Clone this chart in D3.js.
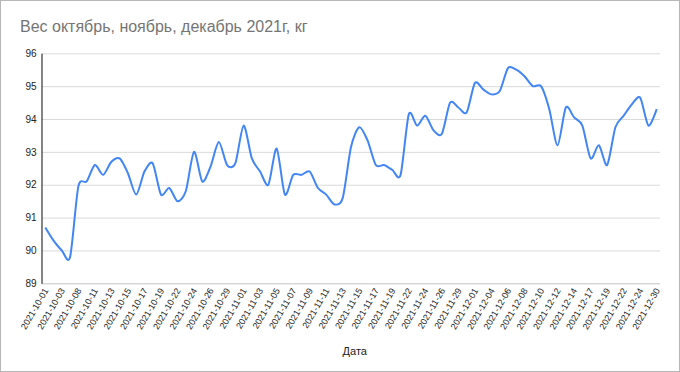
<!DOCTYPE html>
<html><head><meta charset="utf-8">
<script src="https://cdn.jsdelivr.net/npm/d3@7"></script>
<style>
html,body{margin:0;padding:0;background:#fff;}
svg{display:block;font-family:Arial,"Liberation Sans",sans-serif;}
</style></head>
<body><svg id="c" width="680" height="372"></svg>
<script>
const dates = [
"2021-10-01","2021-10-02","2021-10-03","2021-10-04","2021-10-08","2021-10-10","2021-10-11","2021-10-12",
"2021-10-13","2021-10-14","2021-10-15","2021-10-16","2021-10-17","2021-10-18","2021-10-19","2021-10-20",
"2021-10-22","2021-10-23","2021-10-24","2021-10-25","2021-10-26","2021-10-27","2021-10-29","2021-10-30",
"2021-11-01","2021-11-02","2021-11-03","2021-11-04","2021-11-05","2021-11-06","2021-11-07","2021-11-08",
"2021-11-09","2021-11-10","2021-11-11","2021-11-12","2021-11-13","2021-11-14","2021-11-15","2021-11-16",
"2021-11-17","2021-11-18","2021-11-19","2021-11-20","2021-11-22","2021-11-23","2021-11-24","2021-11-25",
"2021-11-26","2021-11-27","2021-11-29","2021-11-30","2021-12-01","2021-12-02","2021-12-04","2021-12-05",
"2021-12-06","2021-12-07","2021-12-08","2021-12-09","2021-12-10","2021-12-11","2021-12-12","2021-12-13",
"2021-12-14","2021-12-15","2021-12-17","2021-12-18","2021-12-19","2021-12-20","2021-12-22","2021-12-23",
"2021-12-24","2021-12-27","2021-12-30"];
const weights = [
90.7,90.3,90.0,89.8,91.95,92.1,92.6,92.3,
92.7,92.8,92.35,91.7,92.4,92.65,91.7,91.9,
91.5,91.8,93.0,92.1,92.55,93.3,92.6,92.65,
93.8,92.8,92.4,92.0,93.1,91.7,92.3,92.3,
92.4,91.9,91.7,91.4,91.6,93.15,93.75,93.35,
92.6,92.6,92.45,92.3,94.15,93.8,94.1,93.65,
93.55,94.5,94.35,94.2,95.1,94.9,94.75,94.85,
95.55,95.5,95.3,95.0,95.0,94.3,93.2,94.35,
94.05,93.8,92.8,93.2,92.6,93.75,94.1,94.45,
94.65,93.8,94.3];
const yTicks = [89,90,91,92,93,94,95,96];
const xTickLabels = dates.filter((d,i)=>i%2===0);
const title = "Вес октябрь, ноябрь, декабрь 2021г, кг";
const xTitle = "Дата";

const svg = d3.select("#c");
svg.append("rect").attr("x",0.5).attr("y",0.5).attr("width",679).attr("height",371)
  .attr("fill","#fff").attr("stroke","#b7b7b7");

const L=41.5, R=660, T=53.3, B=283.3;
const x = d3.scalePoint().domain(dates).range([45.3,656.7]);
const y = d3.scaleLinear().domain([89,96]).range([B,T]);

svg.append("text").attr("x",20).attr("y",31.5).attr("fill","#757575")
  .style("font-size","16px").text(title);

// gridlines
const grid = svg.append("g").attr("transform",`translate(${L},0)`)
  .call(d3.axisLeft(y).tickValues(yTicks).tickSize(-(R-L)).tickFormat(""));
grid.select(".domain").remove();
grid.selectAll(".tick line").attr("stroke","#dadada").attr("stroke-width",1);
grid.selectAll(".tick").filter(d=>d===89).select("line").attr("stroke","#c4c4c4");

// y labels
const ya = svg.append("g").attr("transform",`translate(${L},0)`)
  .call(d3.axisLeft(y).tickValues(yTicks).tickSize(0).tickPadding(5).tickFormat(d3.format("d")));
ya.select(".domain").attr("stroke","#333").attr("stroke-width",1.2);
ya.selectAll("text").attr("fill","#222").style("font-size","10px").style("font-family","Arial,'Liberation Sans',sans-serif");

// x labels
const xa = svg.append("g").attr("transform",`translate(0,${B})`)
  .call(d3.axisBottom(x).tickValues(xTickLabels).tickSize(0));
xa.select(".domain").remove();
xa.selectAll("text").attr("fill","#222").style("font-size","9px")
  .style("font-family","Arial,'Liberation Sans',sans-serif")
  .attr("text-anchor","end").attr("dy","0").attr("y",0)
  .attr("transform","translate(3,7) rotate(-60)");

svg.append("text").attr("x",(L+R)/2+4).attr("y",355).attr("text-anchor","middle")
  .attr("fill","#222").style("font-size","11px").text(xTitle);

const line = d3.line().x((d,i)=>x(dates[i])).y(d=>y(d)).curve(d3.curveCardinal.tension(0.2));
svg.append("path").datum(weights).attr("d",line).attr("fill","none")
  .attr("stroke","#4285f4").attr("stroke-width",2).attr("stroke-linejoin","round");
</script></body></html>
